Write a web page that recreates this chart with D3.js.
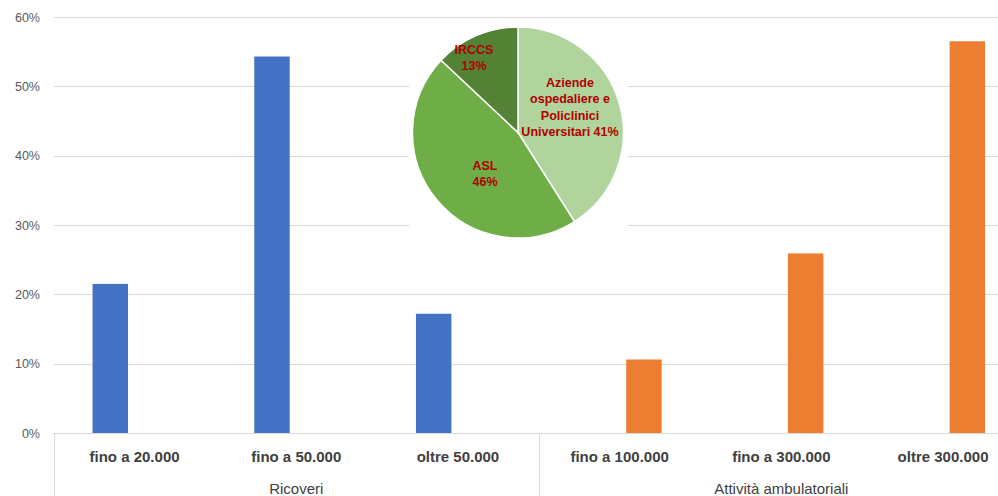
<!DOCTYPE html>
<html>
<head>
<meta charset="utf-8">
<script src="https://cdn.jsdelivr.net/npm/d3@7"></script>
<style>
  html, body { margin: 0; padding: 0; background: #fff; }
  svg { display: block; }
  text { font-family: "Liberation Sans Narrow", "Liberation Sans", Arial, sans-serif; }
</style>
</head>
<body>
<svg id="chart" width="998" height="496"></svg>
<script>
// Bar chart data: two groups of size classes, shares of structures
const categories = ["fino a 20.000", "fino a 50.000", "oltre 50.000",
                    "fino a 100.000", "fino a 300.000", "oltre 300.000"];
const groups = ["Ricoveri", "Attività ambulatoriali"];
const groupOf = [0, 0, 0, 1, 1, 1];
const seriesNames = ["ricoveri", "ambulatoriali"];
const ricoveriValues = [0.215, 0.543, 0.172, null, null, null];
const ambulatorialiValues = [null, null, null, 0.106, 0.259, 0.565];
const yTicks = [0, 0.1, 0.2, 0.3, 0.4, 0.5, 0.6];

// Inset pie data
const pieLabels = [["Aziende", "ospedaliere e", "Policlinici", "Universitari 41%"],
                   ["ASL", "46%"],
                   ["IRCCS", "13%"]];
const pieValues = [41, 46, 13];

const seriesColors = ["#4472c4", "#ed7d31"];
const pieColors = ["#b1d49c", "#6fad46", "#548235"];

const svg = d3.select("#chart");
const plotLeft = 53.7, catW = 161.7;
const plotTop = 17, plotBottom = 433;

const x0 = d3.scaleBand().domain(categories)
  .range([plotLeft, plotLeft + catW * categories.length]).padding(0);
const x1 = d3.scaleBand().domain(seriesNames)
  .range([0, catW]).paddingInner(0.27).paddingOuter(0.8);
const y = d3.scaleLinear().domain([0, 0.6]).range([plotBottom, plotTop]);

// Gridlines
svg.append("g").selectAll("line").data(yTicks).join("line")
  .attr("x1", plotLeft).attr("x2", 998)
  .attr("y1", d => Math.round(y(d)) + 0.5).attr("y2", d => Math.round(y(d)) + 0.5)
  .attr("stroke", "#d9d9d9").attr("stroke-width", 1);

// Y axis labels
const yAxis = d3.axisLeft(y).tickValues(yTicks).tickFormat(d3.format(".0%")).tickSize(0).tickPadding(0);
const ya = svg.append("g").attr("transform", "translate(40,0)").call(yAxis);
ya.select(".domain").remove();
ya.selectAll("text").attr("fill", "#595959").style("font-size", "12.5px")
  .style("font-family", '"Liberation Sans Narrow", "Liberation Sans", sans-serif');

// Bars
const seriesData = [ricoveriValues, ambulatorialiValues];
seriesData.forEach((vals, si) => {
  svg.append("g").selectAll("rect")
    .data(vals.map((v, i) => ({ v, c: categories[i] })).filter(d => d.v != null))
    .join("rect")
    .attr("x", d => x0(d.c) + x1(seriesNames[si]))
    .attr("width", x1.bandwidth())
    .attr("y", d => y(d.v))
    .attr("height", d => y(0) - y(d.v))
    .attr("fill", seriesColors[si]);
});

// Category axis (two levels)
const ax = svg.append("g");
ax.append("line").attr("x1", plotLeft).attr("x2", 998)
  .attr("y1", plotBottom + 0.5).attr("y2", plotBottom + 0.5).attr("stroke", "#d9d9d9");
const sepX = [x0(categories[0]), x0(categories[3])];
ax.selectAll("line.sep").data(sepX).join("line").attr("class", "sep")
  .attr("x1", d => Math.round(d) + 0.5).attr("x2", d => Math.round(d) + 0.5)
  .attr("y1", plotBottom).attr("y2", 496).attr("stroke", "#d9d9d9");
ax.selectAll("text.cat").data(categories).join("text").attr("class", "cat")
  .attr("x", d => x0(d) + catW / 2).attr("y", 462)
  .attr("text-anchor", "middle").attr("fill", "#404040")
  .style("font-size", "15px").style("font-weight", "bold")
  .text(d => d);
ax.selectAll("text.grp").data(groups).join("text").attr("class", "grp")
  .attr("x", (d, gi) => {
    const idx = groupOf.map((g, i) => g === gi ? i : -1).filter(i => i >= 0);
    return (x0(categories[idx[0]]) + x0(categories[idx[idx.length - 1]]) + catW) / 2;
  })
  .attr("y", 494).attr("text-anchor", "middle").attr("fill", "#404040")
  .style("font-size", "15px")
  .text(d => d);

// Inset pie on a white panel
svg.append("rect").attr("x", 409).attr("y", 21).attr("width", 219).attr("height", 222).attr("fill", "#fff");
const cx = 518, cy = 132.5, r = 105.5;
const pie = d3.pie().sort(null).value(d => d);
const arcs = pie(pieValues);
const arc = d3.arc().innerRadius(0).outerRadius(r);
const pg = svg.append("g").attr("transform", `translate(${cx},${cy})`);
pg.selectAll("path").data(arcs).join("path")
  .attr("d", arc).attr("fill", (d, i) => pieColors[i])
  .attr("stroke", "#fff").attr("stroke-width", 1.5);

const labelPos = [[52, -46], [-33, 37], [-44, -79]];
pg.selectAll("text").data(arcs).join("text")
  .attr("text-anchor", "middle").attr("fill", "#b00000")
  .style("font-size", "12.5px").style("font-weight", "bold")
  .each(function (d, i) {
    const t = d3.select(this);
    const lines = pieLabels[i];
    lines.forEach((ln, k) => {
      t.append("tspan").attr("x", labelPos[i][0])
        .attr("y", labelPos[i][1] + k * 16.5).text(ln);
    });
  });
</script>
</body>
</html>
